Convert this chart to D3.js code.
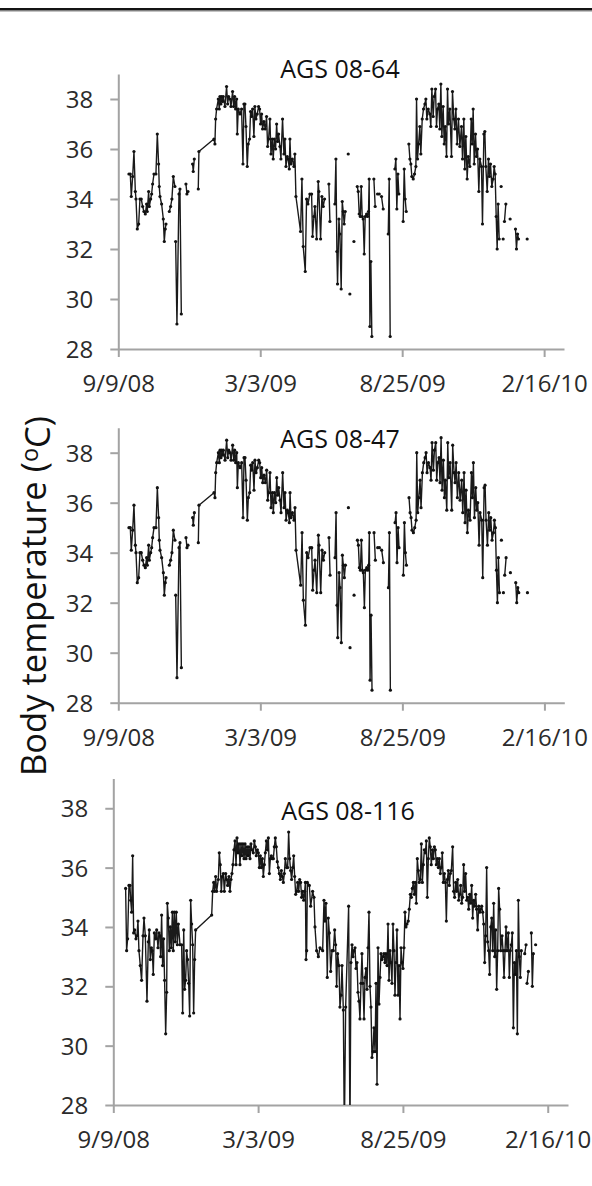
<!DOCTYPE html>
<html>
<head>
<meta charset="utf-8">
<script src="https://cdn.jsdelivr.net/npm/d3@7"></script>
<style>
  html, body { margin: 0; padding: 0; background: #fff; }
  svg { display: block; }
</style>
</head>
<body>
<svg id="chart" width="592" height="1186"></svg>
<script>
// ---------- DATA (days since 9/9/08, body temperature °C; null = gap) ----------
const xTickDates  = ["2008-09-09", "2009-03-03", "2009-08-25", "2010-02-16"];
const xTickLabels = ["9/9/08", "3/3/09", "8/25/09", "2/16/10"];
const yTicks = [28, 30, 32, 34, 36, 38];
const panelTitles = ["AGS 08-64", "AGS 08-47", "AGS 08-116"];

const ags64Days = [
 13.1,14.8,16.0,17.7,19.3,21.0,21.8,23.4,25.1,26.7,28.3,30.0,31.6,33.3,34.9,35.7,37.4,38.2,39.9,41.1,42.3,44.0,46.4,48.1,49.7,50.5,51.4,53.4,55.5,56.7,57.9,58.8,null,
 62.9,64.5,66.1,67.8,69.8,null,
 70.7,72.3,74.8,76.0,77.7,null,
 83.4,84.6,85.9,null,
 91.6,92.4,93.7,null,
 98.6,99.4,117.9,119.1,120.0,121.2,123.3,124.5,125.3,126.5,127.4,128.6,129.4,131.5,133.5,134.8,136.0,137.6,138.9,140.9,142.2,143.4,144.6,145.9,146.7,147.9,150.0,152.0,153.7,154.9,156.1,157.4,159.0,160.2,161.9,163.1,164.3,165.6,167.2,168.4,169.7,171.3,173.0,174.2,175.4,176.7,177.9,179.5,181.2,182.8,184.1,185.3,186.9,188.2,189.8,191.0,192.3,193.9,195.2,196.4,197.6,199.3,200.5,202.5,204.2,205.4,206.7,208.3,209.5,210.8,211.6,212.8,214.5,216.5,217.7,219.0,224.7,226.4,228.0,230.5,232.1,233.8,236.2,238.3,239.5,241.2,242.4,244.5,246.5,247.3,249.4,251.0,252.7,254.3,null,
 259.6,260.9,null,
 267.0,268.3,269.5,270.3,272.0,273.2,274.8,276.1,277.3,278.5,279.8,null,
 283.5,null,
 285.5,null,
 290.5,null,
 294.6,295.8,297.0,298.3,299.5,300.7,301.9,303.2,304.4,306.1,307.3,308.5,309.3,310.2,311.4,312.6,null,
 315.1,316.7,null,
 319.6,321.7,null,
 324.5,326.6,null,
 332.8,334.0,335.2,null,
 341.0,342.2,343.4,344.7,345.9,null,
 351.2,352.5,353.7,355.0,null,
 358.2,359.5,360.7,361.9,363.6,365.2,366.9,367.7,368.9,370.2,371.8,373.0,374.7,376.3,378.0,379.2,380.4,382.1,384.1,385.3,386.6,388.2,389.5,391.1,392.3,393.6,395.2,396.4,397.7,398.9,400.5,401.8,403.0,404.7,405.9,407.1,408.8,410.8,412.0,413.7,414.9,416.2,417.8,419.4,421.1,423.1,424.4,426.0,427.2,428.5,430.1,431.4,433.4,435.1,436.3,437.5,438.8,440.4,441.6,442.9,444.5,445.7,447.8,449.0,450.7,451.9,453.1,454.8,456.4,457.6,458.9,460.5,462.2,463.4,464.6,465.9,467.1,468.3,469.6,null,
 472.0,null,
 474.5,null,
 476.1,477.8,null,
 483.1,null,
 489.7,490.9,492.2,493.4,null,
 504.1
];
const ags64Temps = [
 35.0,35.0,34.1,34.9,35.9,34.3,34.0,32.8,33.0,34.0,34.0,33.7,33.5,33.4,33.8,33.5,34.3,33.7,34.0,34.2,34.6,35.0,35.0,36.6,35.4,34.5,34.1,33.8,33.2,32.3,32.8,33.0,null,
 33.5,33.7,34.0,34.9,34.5,null,
 32.3,29.0,34.2,34.4,29.4,null,
 34.6,34.2,34.3,null,
 35.4,35.1,35.6,null,
 34.4,35.9,36.4,36.2,37.2,37.6,38.0,37.6,38.1,37.8,38.1,37.9,38.1,37.7,38.5,37.8,38.1,38.0,37.7,38.3,37.7,38.1,37.6,38.0,36.6,37.6,37.4,37.6,35.4,37.8,37.8,36.9,35.3,36.2,36.4,37.5,37.3,37.6,36.5,37.7,37.2,37.4,37.7,37.6,37.0,37.4,36.8,37.1,36.8,37.3,36.1,36.4,37.2,35.8,36.4,35.6,36.4,36.0,37.0,36.3,36.6,36.1,35.6,37.2,35.8,36.4,35.3,35.7,35.6,35.2,36.4,35.4,35.6,35.3,35.8,34.1,32.7,34.8,32.1,31.1,34.0,33.8,34.2,34.2,32.5,33.3,33.7,32.4,34.7,34.3,32.4,34.1,33.7,34.0,null,
 34.6,33.1,null,
 33.8,35.6,31.9,30.6,33.2,32.6,30.4,33.9,33.5,33.0,33.5,null,
 35.8,null,
 30.2,null,
 32.3,null,
 34.5,34.3,33.4,33.3,34.5,33.3,33.2,31.8,33.3,33.4,33.3,33.5,34.8,28.9,31.5,28.5,null,
 34.8,33.7,null,
 34.2,34.2,null,
 34.1,33.6,null,
 32.6,34.8,28.5,null,
 35.2,35.6,33.6,35.0,34.2,null,
 33.1,35.2,34.0,33.5,null,
 36.2,35.6,35.4,34.9,34.8,35.0,35.3,38.0,35.6,36.2,36.9,35.8,37.2,37.6,37.8,38.0,37.2,37.6,37.4,36.9,38.4,37.3,38.1,38.4,36.9,37.6,37.8,36.8,38.6,36.5,37.7,36.2,36.9,35.7,38.4,37.0,37.6,35.7,38.3,37.2,36.8,37.6,36.2,37.2,36.1,36.9,35.6,37.2,35.2,36.5,34.8,35.7,35.3,37.2,36.2,37.6,35.4,36.6,35.7,36.0,34.3,35.6,35.3,33.0,36.6,36.7,35.3,34.3,35.6,34.9,35.4,34.5,34.8,35.3,35.0,33.3,32.0,33.8,32.4,null,
 34.5,null,
 32.4,null,
 33.1,33.8,null,
 33.2,null,
 32.8,32.0,32.6,32.4,null,
 32.4
];

// AGS 08-47: the reference panel shows the same recorded series as AGS 08-64
const ags47Days = ags64Days;
const ags47Temps = ags64Temps;

const ags116Days = [
 14.9,16.1,17.3,18.9,20.1,21.0,22.2,23.4,24.6,25.8,27.4,28.6,29.8,31.0,32.6,34.2,35.9,37.1,38.7,40.7,42.3,43.5,44.7,46.0,47.1,48.3,49.6,51.2,52.4,54.0,55.2,56.4,57.2,58.4,59.6,60.8,62.0,63.3,64.5,65.3,66.5,67.7,68.9,70.1,71.4,72.5,73.7,74.9,76.1,77.4,78.6,80.6,82.6,83.8,85.1,86.2,87.4,88.6,89.8,91.1,92.3,93.5,94.7,95.9,97.1,98.3,99.5,
 118.9,120.1,121.3,122.5,123.7,124.9,126.9,128.1,129.3,130.5,131.7,133.0,134.2,135.8,137.0,138.2,139.8,141.0,142.2,143.4,144.6,145.8,147.1,148.3,149.5,150.7,151.9,153.1,154.3,155.5,156.7,158.0,159.2,160.4,161.6,162.8,164.0,165.2,166.4,167.6,169.2,170.4,171.7,172.8,174.1,175.3,176.5,177.7,178.9,180.1,181.3,182.5,183.7,185.0,186.2,187.4,188.6,189.8,191.0,192.2,193.4,194.6,195.8,197.0,198.2,199.4,200.6,201.9,203.1,204.3,205.5,206.7,207.9,209.5,210.7,211.9,213.1,214.3,215.5,216.8,218.0,219.2,220.4,221.6,222.8,224.0,225.2,226.4,227.6,228.8,230.1,231.3,232.1,232.9,233.7,
 234.5,236.9,238.5,240.9,242.5,243.7,245.7,247.8,249.8,253.0,254.6,255.8,257.0,258.6,259.8,261.1,262.7,264.3,265.9,267.5,268.7,269.9,271.1,272.7,273.9,275.2,276.4,278.0,279.2,280.8,284.4,286.0,287.2,288.5,289.7,290.9,292.1,293.3,294.5,295.7,296.9,298.1,299.3,300.5,301.7,303.0,304.2,305.4,306.6,307.8,309.0,310.2,311.4,312.6,313.8,315.0,316.3,317.5,318.7,319.9,321.1,322.3,323.5,324.7,325.9,327.1,328.3,329.5,330.8,332.0,333.2,334.4,335.6,336.8,338.0,339.2,340.4,341.6,342.8,344.1,345.3,346.5,347.7,348.9,350.1,351.3,352.5,353.7,354.9,356.5,357.7,359.0,360.2,361.4,362.6,363.8,365.0,366.2,367.4,368.6,369.8,371.0,372.3,373.5,374.7,375.9,377.1,378.3,379.5,380.7,381.9,383.1,384.3,385.6,386.8,388.0,389.2,390.4,391.6,392.8,394.0,395.2,396.4,397.6,398.8,400.1,401.3,402.5,403.7,404.9,406.1,407.3,408.5,410.1,411.3,412.5,413.8,415.0,416.2,417.4,418.6,419.8,421.0,422.2,423.4,424.6,425.8,427.1,428.3,429.5,430.7,431.9,433.1,434.3,435.5,436.7,437.9,439.1,440.3,441.6,442.8,444.0,445.2,446.4,447.6,448.8,450.0,451.2,452.4,453.6,454.8,456.1,457.3,458.5,459.7,460.9,462.1,463.3,464.5,465.7,466.9,468.1,469.8,471.0,472.2,473.4,474.6,475.8,477.4,478.6,479.8,481.0,482.2,483.5,484.7,485.9,487.1,488.3,489.5,490.7,491.9,493.1,null,
 497.2,498.8,null,
 500.0,501.6,null,
 505.2,506.4,507.6,null,
 510.4
];
const ags116Temps = [
 35.3,33.2,33.6,35.4,35.4,34.9,34.5,36.4,33.8,33.9,33.6,33.7,34.2,33.2,32.7,32.2,33.7,34.3,33.7,31.5,33.5,33.9,32.9,33.3,33.2,32.4,33.8,33.6,33.9,33.3,33.8,33.7,33.0,34.4,32.7,33.6,32.2,30.4,31.8,34.8,34.3,33.2,34.0,33.3,34.5,33.2,34.5,33.5,34.5,33.4,34.1,33.4,33.4,31.1,33.9,31.9,32.2,33.2,32.9,32.1,31.0,34.9,34.1,33.4,31.1,32.9,33.9,
 34.4,35.2,35.5,35.2,35.7,35.2,35.6,36.5,36.1,35.2,35.7,35.8,35.2,35.8,35.6,35.4,35.7,35.2,35.6,35.8,36.1,36.6,36.9,36.1,37.0,36.5,36.8,36.1,36.8,36.4,36.8,36.3,36.8,36.3,36.7,36.4,36.7,36.3,36.8,36.6,36.5,36.9,36.7,36.4,36.6,36.5,36.0,36.4,36.0,36.3,35.7,36.1,36.5,36.9,36.6,37.0,35.8,36.3,36.4,36.3,36.3,36.7,37.0,36.7,36.2,36.0,35.8,35.6,35.9,35.7,35.5,35.8,36.3,36.0,36.0,37.2,36.3,35.9,35.6,36.0,36.4,35.7,35.1,35.2,35.5,35.2,35.6,35.5,35.0,35.2,34.9,35.2,35.5,32.9,33.2,
 35.5,35.4,34.7,35.2,35.0,34.0,33.2,33.0,33.3,33.2,34.9,34.2,34.8,32.3,34.3,33.8,32.5,33.2,33.2,33.9,33.4,32.0,33.1,32.7,31.3,31.7,32.7,31.2,27.0,31.3,34.7,27.0,32.8,33.4,33.0,33.2,33.3,32.6,32.8,31.8,31.5,30.9,32.1,33.1,32.1,30.9,32.3,32.6,31.9,33.3,34.5,32.0,31.3,29.6,29.8,30.6,29.8,32.1,28.7,33.3,31.4,32.3,33.1,32.9,33.0,33.1,32.8,33.1,32.7,34.1,32.2,33.2,32.8,32.1,34.1,33.2,31.7,32.8,33.9,31.7,32.7,30.9,33.3,32.8,32.6,33.3,34.5,34.0,34.1,34.2,34.6,35.1,35.0,35.3,35.5,35.1,35.5,34.8,36.3,35.9,35.5,35.6,36.8,35.5,36.1,36.6,36.5,36.9,35.0,36.3,37.0,36.7,36.1,36.6,36.3,36.7,36.6,36.1,36.3,36.0,36.3,35.8,36.0,36.5,35.5,35.8,35.5,34.2,35.6,35.9,35.4,35.8,35.9,36.7,35.2,35.0,35.5,35.2,35.6,34.9,35.1,35.4,34.8,35.0,36.1,35.2,35.8,34.9,35.0,34.6,35.1,34.8,35.4,34.3,34.9,34.7,35.1,34.6,33.9,34.7,34.5,34.6,34.7,34.5,34.1,32.8,33.7,36.0,33.5,33.2,32.4,34.0,34.3,33.2,34.8,33.0,33.9,31.9,33.2,35.3,34.6,33.2,33.7,33.2,32.3,33.2,34.0,33.2,33.8,32.3,33.2,33.4,33.8,30.6,32.8,32.4,33.2,30.4,34.9,33.0,32.3,33.2,null,
 33.1,33.4,null,
 32.1,32.5,null,
 33.8,32.0,33.1,null,
 33.4
];

// ---------- RENDER ----------
const svg = d3.select("#chart");
const START = Date.UTC(2008, 8, 9);
const DAY = 864e5;
const toDate = d => new Date(START + d * DAY);
const parseTick = d3.utcParse("%Y-%m-%d");

const FONT = "'Open Sans', 'DejaVu Sans', sans-serif";
const AXIS_COLOR = "#a3a3a3";

// top rule
svg.append("rect").attr("x", 0).attr("y", 8).attr("width", 592).attr("height", 2.4).attr("fill", "#141414");
svg.append("rect").attr("x", 0).attr("y", 10.4).attr("width", 592).attr("height", 1).attr("fill", "#6a6a6a");

const panels = [
  { title: panelTitles[0], days: ags64Days,  temps: ags64Temps,  x0: 118.3, x1: 564.0, yb: 349.0,  yt: 74.0,  tx: 340, ty: 78 },
  { title: panelTitles[1], days: ags47Days,  temps: ags47Temps,  x0: 118.3, x1: 564.3, yb: 702.7,  yt: 427.7, tx: 340, ty: 448 },
  { title: panelTitles[2], days: ags116Days, temps: ags116Temps, x0: 113.3, x1: 568.0, yb: 1105.0, yt: 778.6, tx: 348, ty: 820 }
];

panels.forEach((p, pi) => {
  const x = d3.scaleUtc().domain([toDate(0), toDate(549.5)]).range([p.x0, p.x1]);
  const y = d3.scaleLinear().domain([28, 39]).range([p.yb, p.yt]);
  const g = svg.append("g");

  // y axis
  const ya = g.append("g").attr("transform", `translate(${p.x0},0)`)
    .call(d3.axisLeft(y).tickValues(yTicks).tickSize(8).tickSizeOuter(0).tickPadding(17).tickFormat(d3.format("d")));
  // x axis
  const xa = g.append("g").attr("transform", `translate(0,${p.yb})`)
    .call(d3.axisBottom(x).tickValues(xTickDates.map(parseTick)).tickSize(8).tickSizeOuter(0)
      .tickFormat((d, i) => xTickLabels[i]));
  [ya, xa].forEach(a => {
    a.selectAll(".domain").attr("stroke", AXIS_COLOR).attr("stroke-width", 2);
    a.selectAll(".tick line").attr("stroke", AXIS_COLOR).attr("stroke-width", 2);
    a.selectAll("text").attr("fill", "#2b2b2b").style("font-family", FONT).style("font-size", "24px");
  });
  ya.selectAll("text").attr("dy", "0.35em");
  xa.selectAll("text").attr("y", 43).attr("dy", null);

  // clip for data
  const cid = "clip" + pi;
  svg.append("clipPath").attr("id", cid).append("rect")
    .attr("x", p.x0).attr("y", p.yt - 6).attr("width", p.x1 - p.x0).attr("height", p.yb - p.yt + 6);

  const pts = p.days.map((d, i) => ({ d: d, t: p.temps[i] }));
  const line = d3.line().defined(v => v.d != null && v.t != null)
    .x(v => x(toDate(v.d))).y(v => y(v.t));
  const dg = g.append("g").attr("clip-path", `url(#${cid})`);
  dg.append("path").datum(pts).attr("d", line)
    .attr("fill", "none").attr("stroke", "#1a1a1a").attr("stroke-width", 1.4).attr("stroke-linejoin", "round");
  dg.selectAll("circle").data(pts.filter(v => v.d != null && v.t != null)).join("circle")
    .attr("cx", v => x(toDate(v.d))).attr("cy", v => y(v.t)).attr("r", 1.6).attr("fill", "#111");

  // panel title
  g.append("text").attr("x", p.tx).attr("y", p.ty).attr("text-anchor", "middle")
    .style("font-family", FONT).style("font-size", "25px").attr("fill", "#111").text(p.title);
});

// y-axis title (shared)
const yt = svg.append("text").attr("transform", "translate(46,596) rotate(-90)")
  .attr("text-anchor", "middle").style("font-family", FONT).style("font-size", "34.5px").attr("fill", "#111");
yt.append("tspan").text("Body temperature (");
yt.append("tspan").attr("dy", "-0.35em").style("font-size", "23.5px").text("o");
yt.append("tspan").attr("dy", "0.35em").text("C)");
</script>
</body>
</html>
